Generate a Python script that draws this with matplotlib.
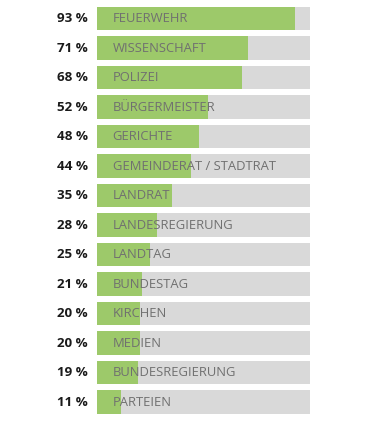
import matplotlib
matplotlib.use("Agg")
import matplotlib.pyplot as plt

categories = ["FEUERWEHR", "WISSENSCHAFT", "POLIZEI", "BÜRGERMEISTER", "GERICHTE",
              "GEMEINDERAT / STADTRAT", "LANDRAT", "LANDESREGIERUNG", "LANDTAG",
              "BUNDESTAG", "KIRCHEN", "MEDIEN", "BUNDESREGIERUNG", "PARTEIEN"]
values = [93, 71, 68, 52, 48, 44, 35, 28, 25, 21, 20, 20, 19, 11]

GREEN = "#9dc96a"
GRAY = "#d9d9d9"
TEXT_GRAY = "#707070"

plt.rcParams["font.family"] = ["Open Sans", "DejaVu Sans"]

fig = plt.figure(figsize=(3.79, 4.25), dpi=100)
ax = fig.add_axes([97.3 / 379, 8.25 / 425, 212.5 / 379, 413 / 425])

y = list(range(len(categories)))
ax.barh(y, [100] * len(values), height=0.78, color=GRAY, linewidth=0)
ax.barh(y, values, height=0.78, color=GREEN, linewidth=0)

for yi, cat, v in zip(y, categories, values):
    ax.text(-4.4, yi, f"{v} %", ha="right", va="center", fontsize=9.6,
            fontweight="bold", color="#1a1a1a")
    ax.text(7.2, yi, cat, ha="left", va="center", fontsize=9.4, color=TEXT_GRAY)

ax.set_xlim(0, 100)
ax.set_ylim(len(categories) - 0.5, -0.5)
ax.axis("off")

fig.savefig("out.png", dpi=100)
